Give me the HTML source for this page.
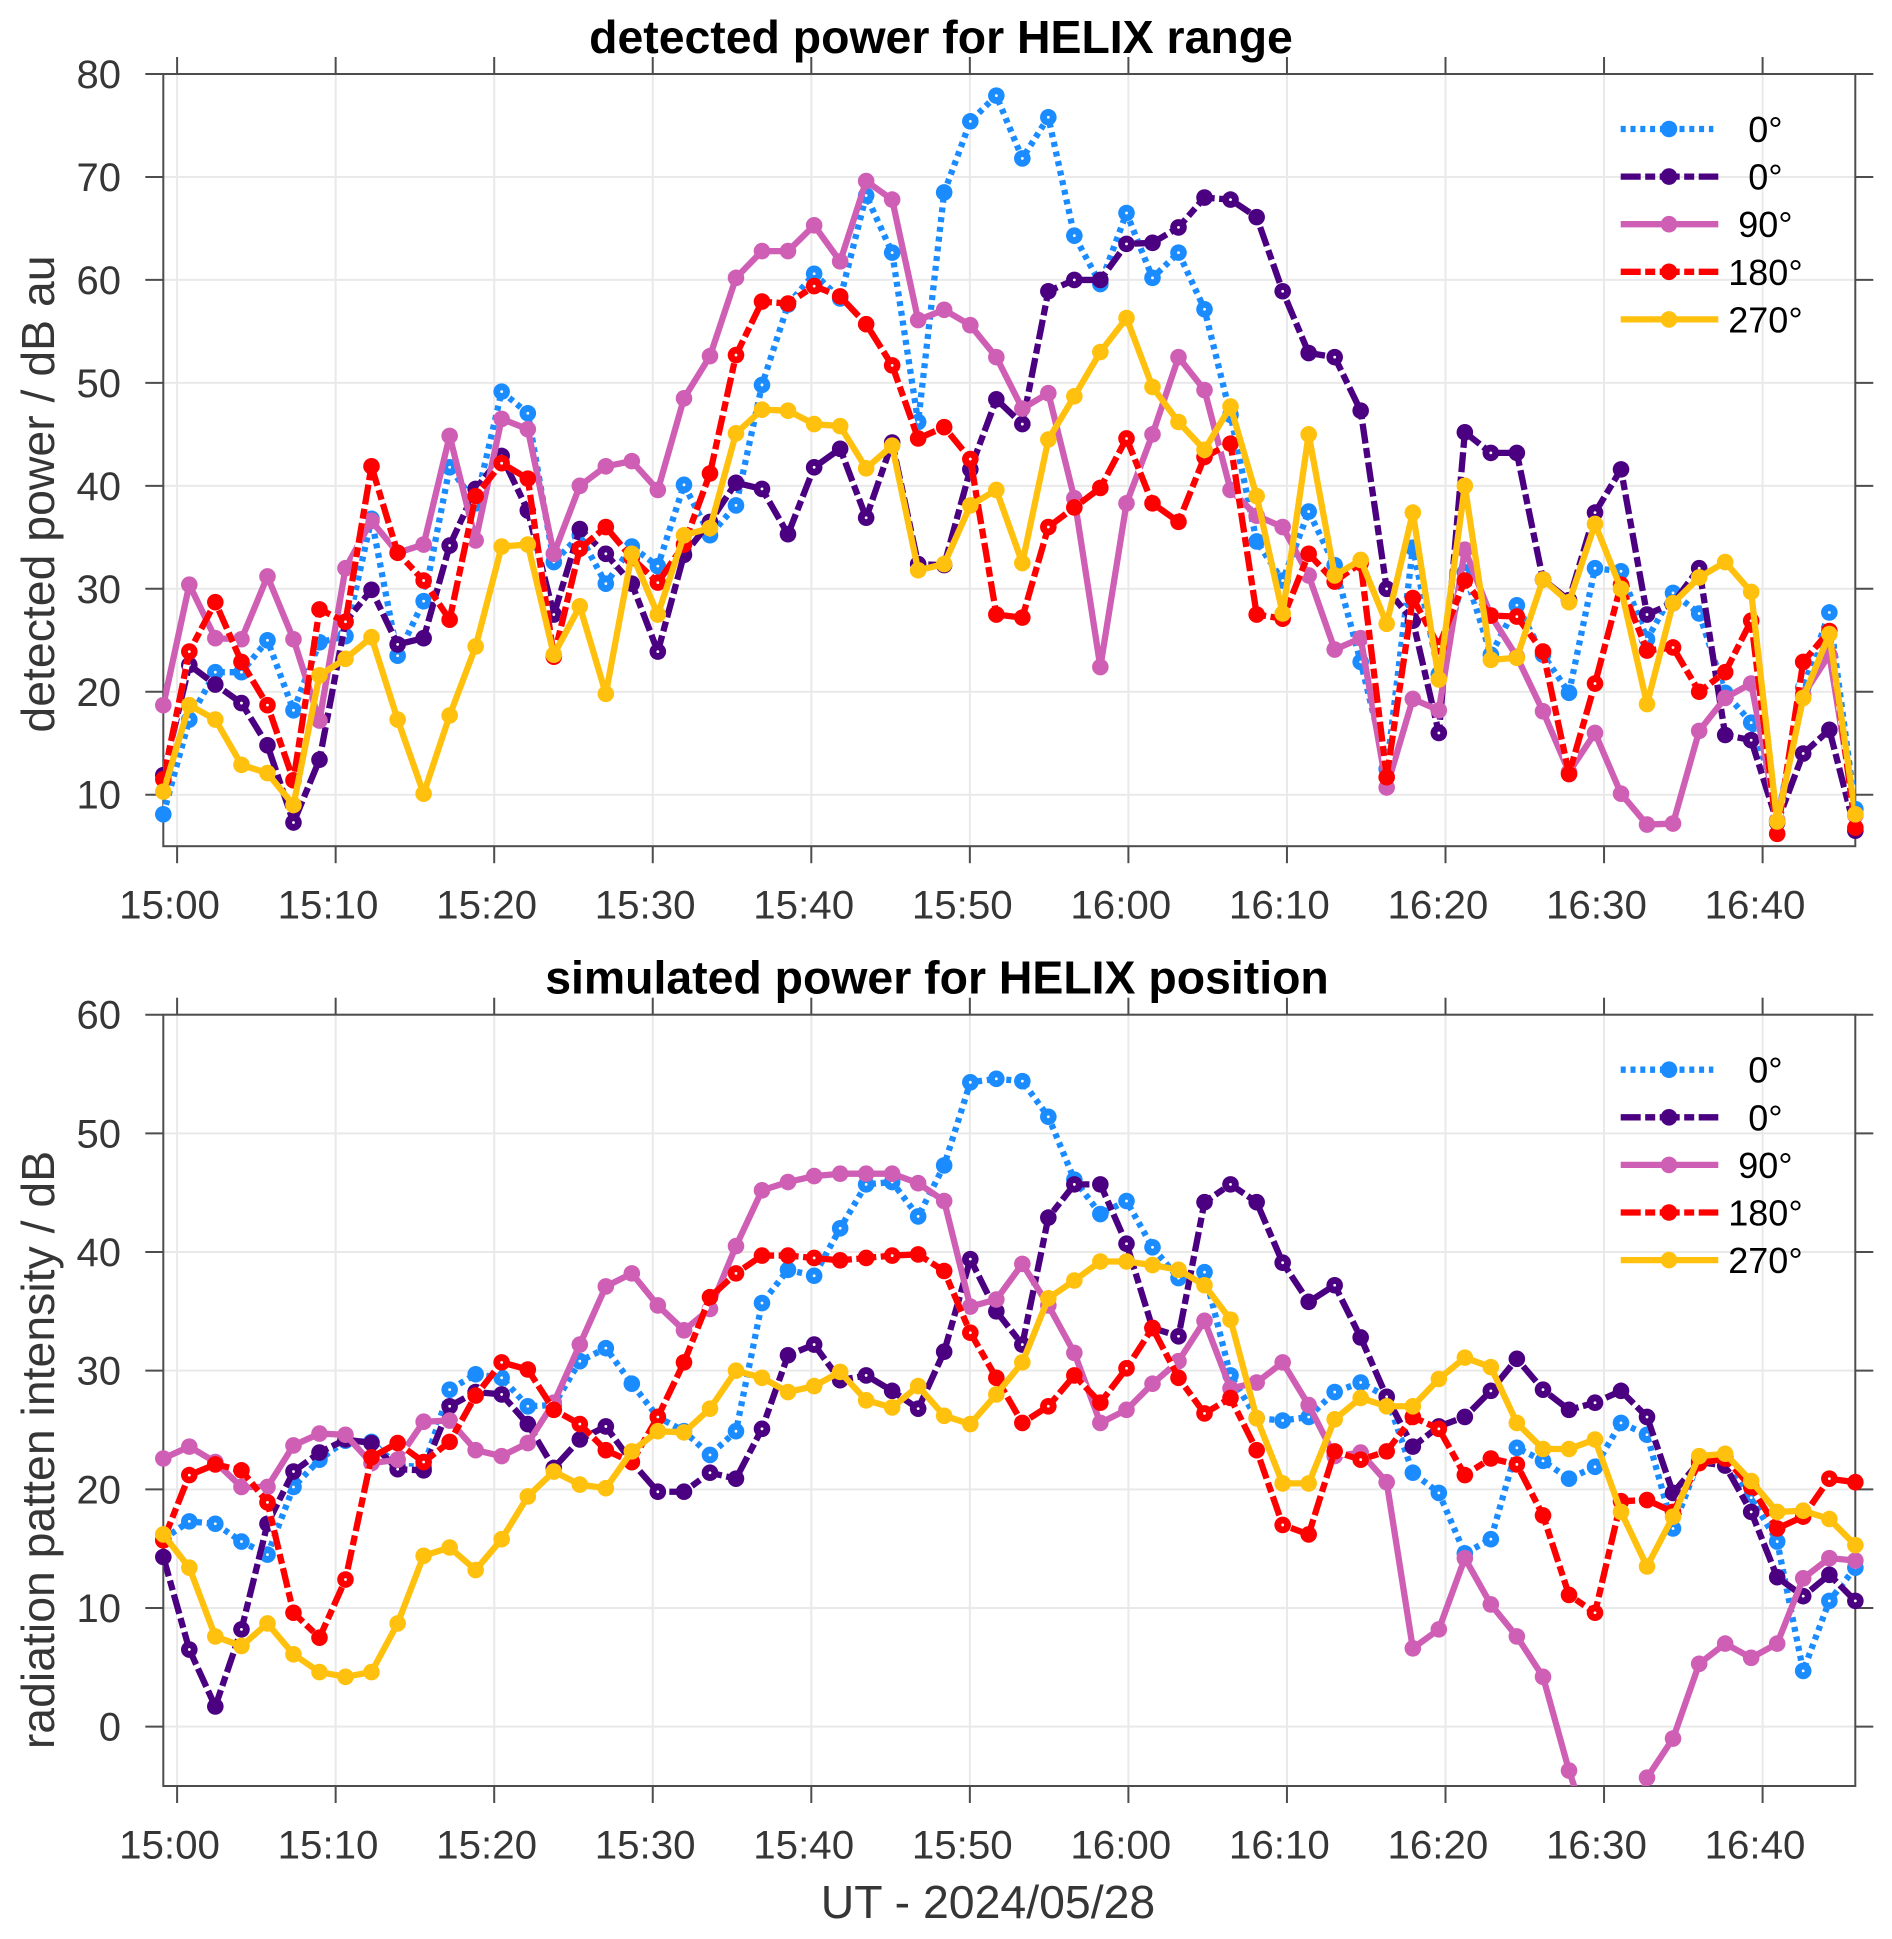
<!DOCTYPE html>
<html lang="en">
<head>
<meta charset="utf-8">
<title>HELIX power charts</title>
<style>
html,body{margin:0;padding:0;background:#fff;}
svg{display:block;}
text{font-family:"Liberation Sans",Arial,sans-serif;}
</style>
</head>
<body>
<svg id="figure" xmlns="http://www.w3.org/2000/svg" width="1892" height="1939" viewBox="0 0 1892 1939">
<rect x="0" y="0" width="1892" height="1939" fill="#ffffff"/>
</svg>
<script>
const sampleMinutes = [-0.87,0.77,2.41,4.06,5.70,7.34,8.98,10.62,12.26,13.91,15.55,17.19,18.83,20.47,22.12,23.76,25.40,27.04,28.68,30.32,31.97,33.61,35.25,36.89,38.53,40.18,41.82,43.46,45.10,46.74,48.38,50.03,51.67,53.31,54.95,56.59,58.23,59.88,61.52,63.16,64.80,66.44,68.09,69.73,71.37,73.01,74.65,76.29,77.94,79.58,81.22,82.86,84.50,86.15,87.79,89.43,91.07,92.71,94.35,96.00,97.64,99.28,100.92,102.56,104.21,105.85];
const timeTickMinutes = [0,10,20,30,40,50,60,70,80,90,100];
const timeTickLabels = ["15:00","15:10","15:20","15:30","15:40","15:50","16:00","16:10","16:20","16:30","16:40"];
const legendLabels = ["0°","0°","90°","180°","270°"];

const detectedTicks = [10,20,30,40,50,60,70,80];
const detectedBlue = [8.1,17.3,21.9,21.9,25,18.2,24.8,25.4,36.8,23.5,28.8,41.8,38.3,49.15,47.05,32.6,35.2,30.5,34.1,32.2,40.1,35.2,38.1,49.8,57.6,60.6,58.2,68.2,62.65,46.2,68.5,75.4,77.9,71.8,75.8,64.3,59.6,66.5,60.2,62.65,57.15,46.9,34.6,30.8,37.5,32.3,22.9,12.5,34,21.7,31.6,23.6,28.4,23.6,19.9,32,31.7,25.1,29.6,27.6,19.9,17,7.5,20.4,27.7,8.6];
const detectedPurple = [11.9,22.6,20.7,18.9,14.8,7.3,13.4,26.8,29.9,24.6,25.2,34.2,39.7,42.9,37.6,27.5,35.8,33.4,30.5,23.9,33.3,36.5,40.3,39.7,35.3,41.8,43.6,36.9,44.2,32.4,32.3,41.6,48.4,46,58.9,60,60,63.5,63.6,65.1,68,67.8,66.1,58.9,52.9,52.5,47.3,30,26.9,16,45.2,43.2,43.2,30.9,28.9,37.4,41.6,27.5,28.6,32,15.8,15.3,7.3,14,16.3,6.5];
const detectedMagenta = [18.7,30.4,25.2,25.1,31.2,25.1,17.2,32,36.6,33.5,34.3,44.85,34.7,46.5,45.5,33.4,40,41.9,42.4,39.6,48.5,52.6,60.2,62.8,62.8,65.3,61.8,69.6,67.8,56.1,57.1,55.6,52.5,47.5,49,38.8,22.4,38.3,45,52.5,49.3,39.6,37.1,36,31.3,24.1,25.2,10.7,19.3,18.2,33.8,27.4,23.4,18.1,12.2,16,10.1,7.1,7.2,16.2,19.4,20.8,7.5,19.7,23.6,8];
const detectedRed = [11.5,23.9,28.7,22.9,18.7,11.4,28,26.8,41.9,33.5,30.8,27,39,42.2,40.7,23.4,33.9,36,33,30.6,34.3,41.2,52.7,57.9,57.7,59.4,58.4,55.7,51.7,44.6,45.7,42.6,27.5,27.2,36,37.9,39.8,44.6,38.3,36.5,42.8,44.1,27.5,27.1,33.4,30.7,32.5,11.7,29.1,24.4,30.8,27.4,27.3,23.9,12,20.8,30.4,24,24.3,20,21.9,26.9,6.2,22.9,25.9,6.8];
const detectedYellow = [10.3,18.7,17.3,12.9,12.1,9,21.6,23.2,25.3,17.3,10.1,17.7,24.4,34.1,34.3,23.6,28.3,19.8,33.4,27.5,35.2,35.9,45.1,47.4,47.3,46,45.8,41.7,43.9,31.8,32.4,38.1,39.6,32.5,44.5,48.7,53,56.3,49.6,46.2,43.5,47.7,39,27.6,45,31.3,32.8,26.6,37.4,21.2,40,23.1,23.3,30.9,28.7,36.3,30,18.8,28.6,31.1,32.6,29.7,7.4,19.4,25.6,8.1];

const simulatedTicks = [0,10,20,30,40,50,60];
const simulatedBlue = [15.8,17.3,17.1,15.6,14.5,20.2,22.5,24.1,24,22,21.9,28.4,29.7,29.4,27,27.1,30.8,31.9,28.9,26.1,24.9,22.9,24.9,35.7,38.5,38,42,45.7,45.9,43,47.3,54.3,54.6,54.4,51.4,46.1,43.2,44.3,40.4,37.8,38.3,29.6,26,25.8,26.1,28.2,29,27.8,21.4,19.7,14.6,15.8,23.5,22.4,20.9,21.9,25.6,24.6,16.7,22.5,22.8,19.3,15.6,4.7,10.6,13.4];
const simulatedPurple = [14.3,6.5,1.7,8.2,17.1,21.5,23.1,24.2,23.9,21.7,21.6,27,28.2,28,25.5,21.8,24.2,25.3,22.3,19.8,19.8,21.4,20.9,25.1,31.3,32.2,29.2,29.6,28.3,26.8,31.6,39.4,35,32.2,42.9,45.7,45.7,40.7,33.6,32.9,44.2,45.7,44.2,39.1,35.8,37.2,32.8,27.8,23.6,25.3,26.1,28.3,31,28.4,26.7,27.3,28.3,26.1,19.7,22.3,22,18.1,12.6,11,12.8,10.6];
const simulatedMagenta = [22.6,23.6,22.3,20.2,20.2,23.7,24.7,24.6,22.2,22.5,25.7,25.8,23.3,22.8,23.9,27.3,32.2,37.1,38.2,35.5,33.4,35.2,40.5,45.2,45.9,46.4,46.6,46.6,46.6,45.8,44.3,35.4,36,39,35.5,31.5,25.6,26.7,28.9,30.8,34.2,28.5,29,30.7,27.1,22.8,23.1,20.6,6.6,8.2,14.2,10.3,7.6,4.2,-3.7,-10.3,-13,-4.3,-1,5.3,7,5.8,7,12.5,14.2,14];
const simulatedRed = [15.7,21.2,22.1,21.6,18.9,9.6,7.5,12.4,22.7,23.9,22.3,24,27.9,30.7,30.1,26.7,25.5,23.3,22.3,26.1,30.7,36.2,38.2,39.7,39.7,39.5,39.3,39.5,39.7,39.8,38.4,33.2,29.4,25.6,27,29.6,27.3,30.2,33.6,29.4,26.4,27.7,23.3,17,16.2,23.2,22.5,23.2,26.1,25.1,21.2,22.6,22.1,17.8,11.1,9.6,19,19.1,18.1,22.2,22.6,20.2,16.7,17.7,20.9,20.6];
const simulatedYellow = [16.2,13.4,7.6,6.8,8.7,6.1,4.6,4.2,4.6,8.7,14.4,15.1,13.2,15.8,19.4,21.5,20.4,20.1,23.2,24.9,24.8,26.8,30,29.4,28.2,28.7,29.9,27.5,26.9,28.7,26.2,25.5,28,30.7,36.1,37.6,39.2,39.2,38.9,38.5,37.2,34.3,26,20.5,20.5,25.9,27.7,27,27,29.3,31.1,30.3,25.6,23.4,23.4,24.2,18.1,13.5,17.7,22.8,23,20.7,18.1,18.2,17.5,15.3];

const seriesStyles = [
  {key:"blue-0deg", color:"#1a8cff", dash:"5 4.8", holeEvery:1, legendEnd:1713.3},
  {key:"purple-0deg", color:"#4b0082", dash:"20 4.5 10 4.5", holeEvery:2, legendEnd:1718.3},
  {key:"magenta-90deg", color:"#cf5fb5", dash:null, holeEvery:0, legendEnd:1718.3},
  {key:"red-180deg", color:"#ff0000", dash:"20 4.5 10 4.5", holeEvery:3, legendEnd:1718.3},
  {key:"yellow-270deg", color:"#ffc10e", dash:null, holeEvery:0, legendEnd:1718.3}
];

const svg = document.getElementById("figure");
const NS = "http://www.w3.org/2000/svg";
const axisColor = "#4d4d4d";
const gridColor = "#e9e9e9";
const tickColor = "#363636";
const plotLeft = 163.3, plotRight = 1855.3;
const pxPerMinute = 15.855, xZeroPx = 177.1;
const lineWidth = 6.3, markerRadius = 8.3;

function xScale(minute){ return xZeroPx + pxPerMinute * minute; }

function make(tag, attrs, parent){
  const el = document.createElementNS(NS, tag);
  for (const k in attrs) el.setAttribute(k, attrs[k]);
  (parent || svg).appendChild(el);
  return el;
}

function drawChart(cfg){
  const yScale = v => cfg.top + (cfg.yMax - v) * (cfg.bottom - cfg.top) / (cfg.yMax - cfg.yMin);

  const group = make("g", {});
  
  

  const defs = make("defs", {}, group);
  const clip = make("clipPath", {id: cfg.name + "-clip"}, defs);
  make("rect", {x: plotLeft, y: cfg.top, width: plotRight - plotLeft, height: cfg.bottom - cfg.top}, clip);

  cfg.yTicks.forEach(v => {
    const y = yScale(v);
    const grid = make("line", {x1: plotLeft, x2: plotRight, y1: y, y2: y, stroke: gridColor, "stroke-width": 2}, group);
    
    
  });
  timeTickMinutes.forEach(m => {
    const x = xScale(m);
    const grid = make("line", {x1: x, x2: x, y1: cfg.top, y2: cfg.bottom, stroke: gridColor, "stroke-width": 2}, group);
    
    
  });

  const frame = make("rect", {x: plotLeft, y: cfg.top, width: plotRight - plotLeft, height: cfg.bottom - cfg.top, fill: "none", stroke: axisColor, "stroke-width": 2}, group);
  
  

  cfg.yTicks.forEach(v => {
    const y = yScale(v);
    const tickL = make("line", {x1: plotLeft - 18, x2: plotLeft, y1: y, y2: y, stroke: axisColor, "stroke-width": 2}, group);
    
    
    const tickR = make("line", {x1: plotRight, x2: plotRight + 18, y1: y, y2: y, stroke: axisColor, "stroke-width": 2}, group);
    
    
    const label = make("text", {x: 121, y: y + 14, "text-anchor": "end", "font-size": 40, fill: tickColor}, group);
    label.textContent = String(v);
    
    
  });

  timeTickMinutes.forEach((m, idx) => {
    const x = xScale(m);
    const tickB = make("line", {x1: x, x2: x, y1: cfg.bottom, y2: cfg.bottom + 17, stroke: axisColor, "stroke-width": 2}, group);
    
    
    const tickT = make("line", {x1: x, x2: x, y1: cfg.top - 17, y2: cfg.top, stroke: axisColor, "stroke-width": 2}, group);
    
    
    const label = make("text", {x: x - 7.6, y: cfg.bottom + 72.5, "text-anchor": "middle", "font-size": 40.3, fill: tickColor}, group);
    label.textContent = timeTickLabels[idx];
    
    
  });

  const title = make("text", {x: cfg.titleX, y: cfg.top - 21, "text-anchor": "middle", "font-size": 46.4, "font-weight": "bold", fill: "#000"}, group);
  title.textContent = cfg.title;
  
  

  const yLabel = make("text", {x: 0, y: 0, "text-anchor": "middle", "font-size": 46.4, fill: tickColor, transform: "translate(54 " + cfg.yLabelY + ") rotate(-90)"}, group);
  yLabel.textContent = cfg.yLabel;
  
  

  cfg.series.forEach((values, s) => {
    const style = seriesStyles[s];
    const sGroup = make("g", {}, group);
    
    

    const pts = values.map((v, i) => xScale(sampleMinutes[i]).toFixed(2) + "," + yScale(v).toFixed(2)).join(" ");
    if (style.dash) {
      const under = make("polyline", {points: pts, fill: "none", stroke: "#ffffff", "stroke-width": lineWidth, "stroke-linejoin": "round", "clip-path": "url(#" + cfg.name + "-clip)"}, sGroup);
      
      
    }
    const line = make("polyline", {points: pts, fill: "none", stroke: style.color, "stroke-width": lineWidth, "stroke-linejoin": "round", "clip-path": "url(#" + cfg.name + "-clip)"}, sGroup);
    if (style.dash) line.setAttribute("stroke-dasharray", style.dash);
    
    

    values.forEach((v, i) => {
      if (v < cfg.yMin || v > cfg.yMax) return;
      const cx = xScale(sampleMinutes[i]), cy = yScale(v);
      const dot = make("circle", {cx: cx, cy: cy, r: markerRadius, fill: style.color}, sGroup);
      
      
      const hasHole = style.holeEvery === 1 ? i % 6 !== 0 : (style.holeEvery > 1 && i % style.holeEvery === 1);
      if (hasHole) {
        const hole = make("circle", {cx: cx, cy: cy, r: 1.4, fill: "#ffffff"}, sGroup);
        
        
      }
    });
  });

  const legend = make("g", {}, group);
  
  
  legendLabels.forEach((text, s) => {
    const style = seriesStyles[s];
    const y = cfg.top + 55 + s * 47.6;
    const entry = make("g", {}, legend);
    
    
    const sample = make("line", {x1: 1620.7, x2: style.legendEnd, y1: y, y2: y, stroke: style.color, "stroke-width": lineWidth}, entry);
    if (style.dash) sample.setAttribute("stroke-dasharray", style.dash);
    
    
    const marker = make("circle", {cx: 1669, cy: y, r: markerRadius, fill: style.color}, entry);
    
    
    const label = make("text", {x: 1765.5, y: y + 13, "text-anchor": "middle", "font-size": 36, fill: "#000"}, entry);
    label.textContent = text;
    
    
  });
}

drawChart({
  name: "detected-power-chart",
  title: "detected power for HELIX range",
  titleX: 941,
  yLabel: "detected power / dB au",
  yLabelY: 494,
  top: 74, bottom: 846.2, yMin: 5, yMax: 80,
  yTicks: detectedTicks,
  series: [detectedBlue, detectedPurple, detectedMagenta, detectedRed, detectedYellow]
});

drawChart({
  name: "simulated-power-chart",
  title: "simulated power for HELIX position",
  titleX: 937,
  yLabel: "radiation patten intensity / dB",
  yLabelY: 1450,
  top: 1014.7, bottom: 1786, yMin: -5, yMax: 60,
  yTicks: simulatedTicks,
  series: [simulatedBlue, simulatedPurple, simulatedMagenta, simulatedRed, simulatedYellow]
});

const xTitle = make("text", {x: 988, y: 1918, "text-anchor": "middle", "font-size": 46.4, fill: tickColor});
xTitle.textContent = "UT - 2024/05/28";


</script>
</body>
</html>
